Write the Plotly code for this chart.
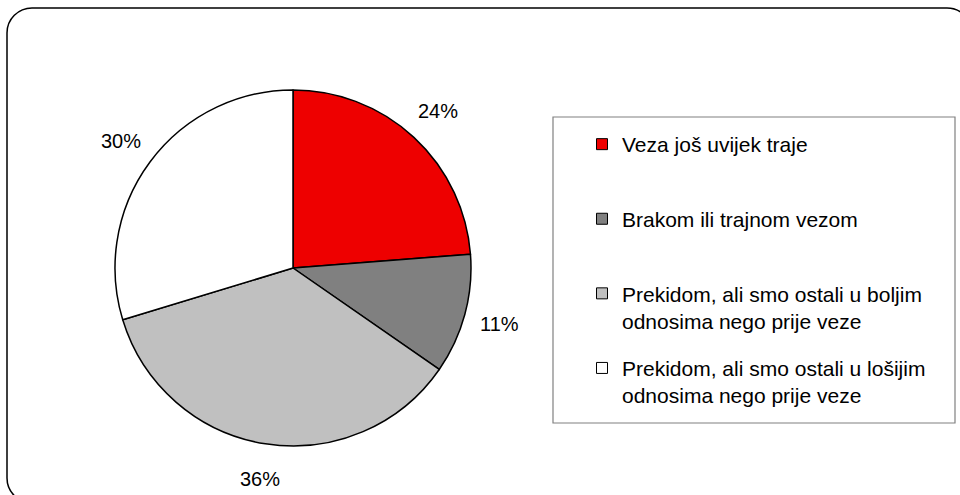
import math
import plotly.graph_objects as go

categories = [
    "Veza još uvijek traje",
    "Brakom ili trajnom vezom",
    "Prekidom, ali smo ostali u boljim<br>odnosima nego prije veze",
    "Prekidom, ali smo ostali u lošijim<br>odnosima nego prije veze",
]
values = [24, 11, 36, 30]
colors = ["#EE0000", "#808080", "#C0C0C0", "#FFFFFF"]

W, H = 960, 495
FONT = "Liberation Sans, Arial, sans-serif"

# pie placement (pixels)
PIE_CX, PIE_CY, PIE_R = 293, 268, 178
LABEL_R = 1.2 * PIE_R


def px(x):
    return x / W


def py(y):
    return 1 - y / H


fig = go.Figure()

fig.add_trace(go.Pie(
    labels=[c.replace("<br>", " ") for c in categories],
    values=values,
    marker=dict(colors=colors, line=dict(color="black", width=1.5)),
    sort=False,
    direction="clockwise",
    rotation=0,
    textinfo="none",
    showlegend=False,
    domain=dict(x=[px(PIE_CX - PIE_R), px(PIE_CX + PIE_R)],
                y=[py(PIE_CY + PIE_R), py(PIE_CY - PIE_R)]),
    hoverinfo="label+percent",
))

# percentage labels outside the slices, placed at each slice's mid angle
total = sum(values)
annotations = []
cum = 0
for v in values:
    mid = (cum + v / 2) / total * 2 * math.pi
    cum += v
    lx = PIE_CX + LABEL_R * math.sin(mid)
    ly = PIE_CY - LABEL_R * math.cos(mid)
    annotations.append(dict(
        x=px(lx), y=py(ly), xref="paper", yref="paper",
        text=f"{round(v / total * 100)}%", showarrow=False,
        xanchor="center", yanchor="middle",
        font=dict(size=20, color="black", family=FONT),
    ))

# legend entries (one group per category for equal spacing)
for i, (name, col) in enumerate(zip(categories, colors)):
    label = name if "<br>" in name else name + "<br>\u00a0"
    fig.add_trace(go.Scatter(
        x=[None], y=[None], mode="markers",
        marker=dict(symbol="square", size=11, color=col,
                    line=dict(color="black", width=1)),
        name=label, legendgroup=f"g{i}", showlegend=True,
    ))

# outer rounded frame (partly beyond the right and bottom edges)
x0, y0, x1, y1, r = 7, 8, 972, 503, 25
k = 0.5523 * r
path = (
    f"M {px(x0 + r)},{py(y0)} L {px(x1 - r)},{py(y0)} "
    f"C {px(x1 - r + k)},{py(y0)} {px(x1)},{py(y0 + r - k)} {px(x1)},{py(y0 + r)} "
    f"L {px(x1)},{py(y1 - r)} "
    f"C {px(x1)},{py(y1 - r + k)} {px(x1 - r + k)},{py(y1)} {px(x1 - r)},{py(y1)} "
    f"L {px(x0 + r)},{py(y1)} "
    f"C {px(x0 + r - k)},{py(y1)} {px(x0)},{py(y1 - r + k)} {px(x0)},{py(y1 - r)} "
    f"L {px(x0)},{py(y0 + r)} "
    f"C {px(x0)},{py(y0 + r - k)} {px(x0 + r - k)},{py(y0)} {px(x0 + r)},{py(y0)} Z"
)

fig.update_layout(
    width=W, height=H,
    margin=dict(l=0, r=0, t=0, b=0),
    paper_bgcolor="white", plot_bgcolor="white",
    xaxis=dict(visible=False), yaxis=dict(visible=False),
    font=dict(family=FONT, color="black"),
    showlegend=True,
    legend=dict(
        x=px(582), y=py(124), xanchor="left", yanchor="top",
        bgcolor="rgba(0,0,0,0)", borderwidth=0,
        font=dict(size=21, family=FONT, color="black"),
        traceorder="grouped", tracegroupgap=17, valign="top",
    ),
    annotations=annotations,
    shapes=[
        dict(type="path", path=path, xref="paper", yref="paper",
             line=dict(color="black", width=1.5), layer="below"),
        dict(type="rect", xref="paper", yref="paper",
             x0=px(553), x1=px(955), y0=py(423), y1=py(117),
             line=dict(color="#808080", width=1.2)),
    ],
)

fig.write_html(
    "out.html",
    config={"displayModeBar": False},
    post_script="document.body.style.margin='0';document.body.style.overflow='hidden';",
)
